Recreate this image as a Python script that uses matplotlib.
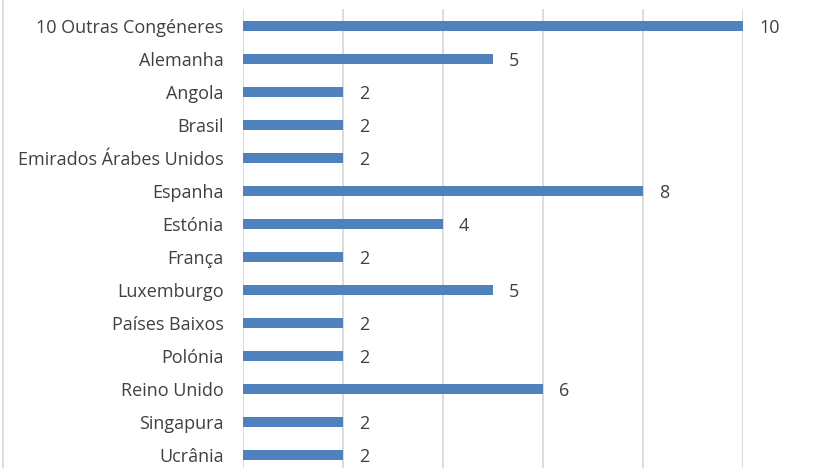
import matplotlib
matplotlib.use("Agg")
import matplotlib.pyplot as plt
from matplotlib.lines import Line2D

categories = ["10 Outras Congéneres", "Alemanha", "Angola", "Brasil",
              "Emirados Árabes Unidos", "Espanha", "Estónia", "França",
              "Luxemburgo", "Países Baixos", "Polónia", "Reino Unido",
              "Singapura", "Ucrânia"]
values = [10, 5, 2, 2, 2, 8, 4, 2, 5, 2, 2, 6, 2, 2]
grid_ticks = [0, 2, 4, 6, 8, 10]

W, H = 833, 468
fig = plt.figure(figsize=(W / 100, H / 100), dpi=100)
plt.rcParams["font.family"] = ["Open Sans", "DejaVu Sans"]

# axes: x 0..10 -> px 243..743, rows 33 px apart starting at y=9.5
top_px, bot_px = 9.5, 9.5 + 33 * len(categories)
ax = fig.add_axes([243 / W, 1 - bot_px / H, 500 / W, (bot_px - top_px) / H])
ax.set_xlim(0, 10)
ax.set_ylim(len(categories) - 0.5, -0.5)

ypos = list(range(len(categories)))
ax.barh(ypos, values, height=0.31, color="#4F81BD", zorder=3)
for y, v in zip(ypos, values):
    ax.text(v + 0.32, y + 0.06, str(v), va="center", ha="left", fontsize=13,
            color="#404040", clip_on=False)

for t in grid_ticks:
    ax.axvline(t, color="#D9D9D9", lw=1.3, zorder=1)

ax.set_yticks(ypos)
ax.set_yticklabels(categories, fontsize=13, color="#404040")
ax.tick_params(axis="y", length=0, pad=14)
ax.set_xticks([])
for s in ax.spines.values():
    s.set_visible(False)

# chart border at the left edge
fig.add_artist(Line2D([2.5 / W, 2.5 / W], [0, 1], color="#D9D9D9", lw=1.3))

fig.savefig("out.png", dpi=100)
